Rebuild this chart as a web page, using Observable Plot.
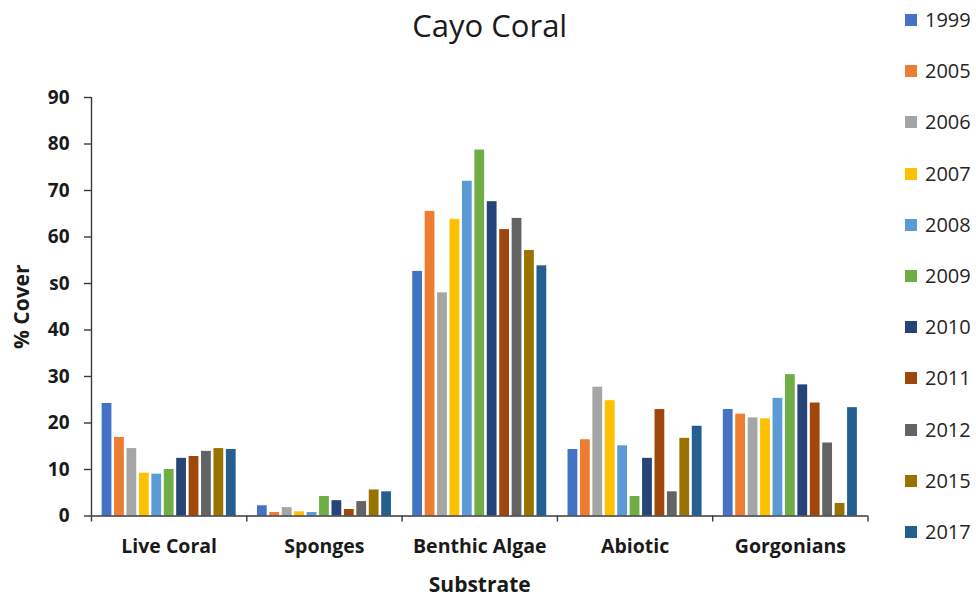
<!DOCTYPE html>
<html>
<head>
<meta charset="utf-8">
<script src="https://cdn.jsdelivr.net/npm/d3@7"></script>
<script src="https://cdn.jsdelivr.net/npm/@observablehq/plot@0.6"></script>
<style>
  html, body { margin: 0; padding: 0; background: #fff; }
  #wrap { position: relative; width: 976px; height: 598px; font-family: "Open Sans", Lato, sans-serif; }
  #legend { position: absolute; left: 905px; top: 0; }
  .item { position: absolute; left: 0; display: flex; align-items: center; white-space: nowrap; }
  .sw { width: 12px; height: 12px; margin-right: 8px; }
  .lab { font-size: 20px; color: #262626; line-height: 1; }
</style>
</head>
<body>
<div id="wrap"><div id="chart"></div><div id="legend"></div></div>
<script>
const title = "Cayo Coral";
const categories = ["Live Coral", "Sponges", "Benthic Algae", "Abiotic", "Gorgonians"];
const years = ["1999", "2005", "2006", "2007", "2008", "2009", "2010", "2011", "2012", "2015", "2017"];
const liveCoral    = [24.2, 16.9, 14.5, 9.2, 9.0, 10.0, 12.4, 12.8, 13.9, 14.5, 14.3];
const sponges      = [2.2, 0.75, 1.8, 0.9, 0.75, 4.2, 3.3, 1.4, 3.1, 5.6, 5.2];
const benthicAlgae = [52.6, 65.5, 48.0, 63.8, 72.0, 78.7, 67.6, 61.6, 64.0, 57.1, 53.8];
const abiotic      = [14.3, 16.4, 27.7, 24.8, 15.1, 4.2, 12.4, 22.9, 5.2, 16.7, 19.3];
const gorgonians   = [22.9, 21.9, 21.1, 20.9, 25.3, 30.4, 28.2, 24.3, 15.7, 2.7, 23.3];
const yTicks = [0, 10, 20, 30, 40, 50, 60, 70, 80, 90];
const yTickLabels = ["0", "10", "20", "30", "40", "s0", "60", "70", "80", "90"];
const colors = ["#4472C4", "#ED7D31", "#A5A5A5", "#FFC000", "#5B9BD5", "#70AD47", "#264478", "#9E480E", "#636363", "#997300", "#255E91"];
const xLabel = "Substrate";
const yLabel = "% Cover";

const series = [liveCoral, sponges, benthicAlgae, abiotic, gorgonians];
const inner = d3.scaleBand().domain(years).range([0, 1]).paddingInner(0.2125).paddingOuter(0.856);
const rows = [];
categories.forEach((c, i) => {
  years.forEach((y, j) => {
    const x1 = i + inner(y);
    rows.push({category: c, year: y, value: series[i][j], x1, x2: x1 + inner.bandwidth()});
  });
});
const boundaries = d3.range(categories.length + 1);
const centers = categories.map((c, i) => i + 0.5);

const axisColor = "#3a3a3a";
const font = "'Open Sans', Lato, sans-serif";

const chart = Plot.plot({
  width: 976,
  height: 598,
  marginLeft: 91,
  marginRight: 108.5,
  marginTop: 97,
  marginBottom: 82.5,
  style: {fontFamily: font, background: "#fff", color: "#1a1a1a", overflow: "visible"},
  x: {domain: [0, categories.length], axis: null},
  y: {domain: [0, 90], axis: null},
  color: {domain: years, range: colors},
  marks: [
    Plot.rectY(rows, {x1: "x1", x2: "x2", y: "value", fill: "year"}),
    Plot.ruleY([0], {stroke: axisColor, strokeWidth: 1.4}),
    Plot.ruleX([0], {y1: 0, y2: 90, stroke: axisColor, strokeWidth: 1.4}),
    Plot.axisY({ticks: yTicks, tickFormat: d => yTickLabels[yTicks.indexOf(d)], tickSize: 7, tickPadding: 15,
      fontSize: 19, fontWeight: "bold", stroke: axisColor, strokeWidth: 1.4, fill: "#1a1a1a", label: null}),
    Plot.axisX({ticks: boundaries, tickFormat: () => "", tickSize: 6, stroke: axisColor, strokeWidth: 1.4, label: null}),
    Plot.axisX({ticks: centers, tickFormat: d => categories[Math.floor(d)], tickSize: 0, tickPadding: 23,
      fontSize: 19.5, fontWeight: "bold", fill: "#1a1a1a", label: null}),
    Plot.text([xLabel], {frameAnchor: "bottom", dy: 69.5, fontSize: 21, fontWeight: "bold", fill: "#1a1a1a", lineAnchor: "middle", textAnchor: "middle"}),
    Plot.text([yLabel], {frameAnchor: "left", dx: -69, rotate: -90, fontSize: 21, fontWeight: "bold", fill: "#1a1a1a", lineAnchor: "middle", textAnchor: "middle"}),
    Plot.text([title], {frameAnchor: "top", dx: 10, dy: -70, fontSize: 31, fill: "#1a1a1a", lineAnchor: "middle", textAnchor: "middle"})
  ]
});
document.getElementById("chart").appendChild(chart);

const legend = document.getElementById("legend");
years.forEach((y, k) => {
  const item = document.createElement("div");
  item.className = "item";
  item.style.top = (20 + k * 51.2 - 10) + "px";
  item.style.height = "20px";
  const sw = document.createElement("div");
  sw.className = "sw";
  sw.style.background = colors[k];
  const lab = document.createElement("span");
  lab.className = "lab";
  lab.textContent = y;
  item.appendChild(sw);
  item.appendChild(lab);
  legend.appendChild(item);
});
</script>
</body>
</html>
